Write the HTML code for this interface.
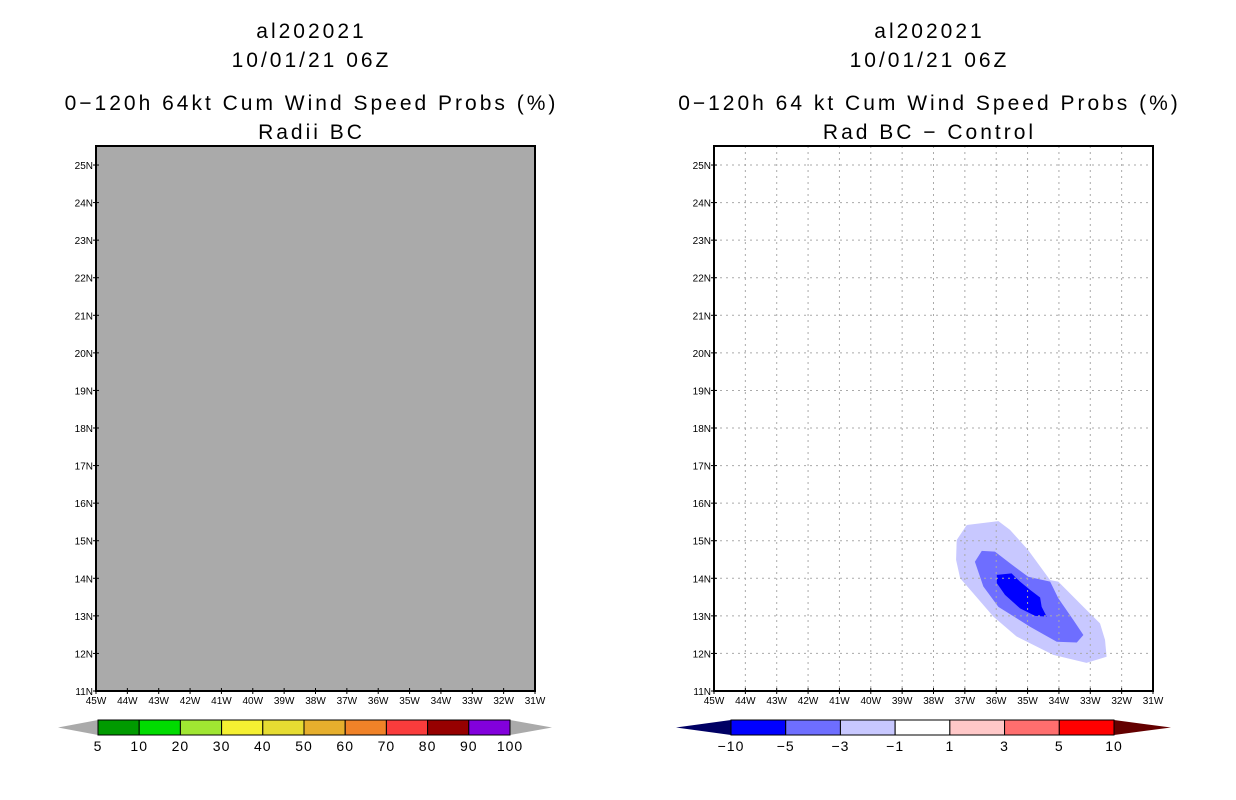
<!DOCTYPE html>
<html><head><meta charset="utf-8"><style>
body{margin:0;background:#fff;}
svg{display:block;font-family:"Liberation Sans",sans-serif;}
</style></head><body>
<svg id="fig" width="1236" height="800" viewBox="0 0 1236 800"></svg>
<script>
const lons=[45,44,43,42,41,40,39,38,37,36,35,34,33,32,31];
const lats=[11,12,13,14,15,16,17,18,19,20,21,22,23,24,25];
// contour polygons [lonW, latN]
const outerPoly=[[36.94,15.42],[35.93,15.52],[35.56,15.29],[34.98,14.75],[34.28,13.95],[34.02,13.91],[33.22,13.24],[32.69,12.80],[32.53,12.36],[32.48,11.91],[33.12,11.75],[34.18,11.96],[35.35,12.45],[36.09,12.98],[36.73,13.60],[37.15,14.00],[37.28,14.49],[37.26,15.02]];
const midPoly=[[36.46,14.73],[36.04,14.71],[35.56,14.40],[34.98,14.04],[34.28,13.91],[34.02,13.47],[33.54,12.89],[33.22,12.49],[33.43,12.29],[34.07,12.31],[34.92,12.71],[35.93,13.24],[36.41,13.78],[36.68,14.44]];
const innerPoly=[[35.98,14.09],[35.51,14.13],[35.24,13.91],[34.92,13.69],[34.60,13.49],[34.55,13.24],[34.39,12.98],[34.76,13.00],[35.24,13.20],[35.72,13.56],[35.98,13.87]];
const leftLabels=["5","10","20","30","40","50","60","70","80","90","100"];
const leftColors=["#009a00","#00dc00","#a0e632","#f5f032","#e6dc32","#e6af2d","#f08228","#fa3c3c","#960000","#8200dc"];
const rightLabels=["\u221210","\u22125","\u22123","\u22121","1","3","5","10"];
const rightColors=["#0000ff","#6e6eff","#c8c8ff","#ffffff","#ffc8c8","#ff6e6e","#ff0000"];

const NS="http://www.w3.org/2000/svg";
const svg=document.getElementById('fig');
function mk(t,a,p){const e=document.createElementNS(NS,t);for(const k in a)e.setAttribute(k,a[k]);(p||svg).appendChild(e);return e;}
const Y0=146,Y1=691,W=439;
function yS(lat){return 691-(lat-11)*37.57;}
function xS(x0,lonW){return x0+(45-lonW)*W/14;}

function panel(x0,cx,t1,t2,gray,id){
  const g=mk('g',{});
  
  
  [["al202021",38],["10/01/21 06Z",67],[t1,110],[t2,139]].forEach((s,i)=>{
    const t=mk('text',{x:cx+1.5,y:s[1],'text-anchor':'middle','font-size':'21','letter-spacing':'3'},g);
    t.textContent=s[0];
    
    
  });
  const bg=mk('rect',{x:x0,y:Y0,width:W,height:Y1-Y0,fill:gray?'#aaaaaa':'#fff'},g);
  
  
  if(!gray){
    [[outerPoly,'#c8c8ff','contour-minus1'],[midPoly,'#6e6eff','contour-minus3'],[innerPoly,'#0000ff','contour-minus5']].forEach(p=>{
      const pg=mk('polygon',{points:p[0].map(v=>xS(x0,v[0])+','+yS(v[1])).join(' '),fill:p[1]},g);
      
      
    });
    lons.slice(1,-1).forEach(l=>{mk('line',{x1:xS(x0,l),x2:xS(x0,l),y1:Y0,y2:Y1,stroke:'#aaa','stroke-dasharray':'2,4'},g);});
    lats.slice(1).forEach(l=>{mk('line',{x1:x0,x2:x0+W,y1:yS(l),y2:yS(l),stroke:'#aaa','stroke-dasharray':'2,4'},g);});
  }
  const fr=mk('rect',{x:x0,y:Y0,width:W,height:Y1-Y0,fill:'none',stroke:'#000','stroke-width':'2'},g);
  
  
  lats.forEach(l=>{
    const y=yS(l);
    mk('line',{x1:x0-3,x2:x0+3,y1:y,y2:y,stroke:'#000'},g);
    const t=mk('text',{x:x0-3,y:y+4,'text-anchor':'end','font-size':'10'},g);
    t.textContent=l+'N';
    
    
  });
  lons.forEach(l=>{
    const x=xS(x0,l);
    mk('line',{x1:x,x2:x,y1:Y1-3,y2:Y1+3,stroke:'#000'},g);
    const t=mk('text',{x:x,y:704,'text-anchor':'middle','font-size':'10'},g);
    t.textContent=l+'W';
    
    
  });
}
function colorbar(xa,xb,xc,xd,colors,labels,leftC,rightC,id){
  const g=mk('g',{});
  
  
  const y0=720,y1=735,ym=727.5,bw=(xc-xb)/colors.length;
  mk('polygon',{points:`${xa},${ym} ${xb},${y0} ${xb},${y1}`,fill:leftC},g);
  mk('polygon',{points:`${xd},${ym} ${xc},${y0} ${xc},${y1}`,fill:rightC},g);
  colors.forEach((c,i)=>{
    const r=mk('rect',{x:xb+i*bw,y:y0,width:bw,height:y1-y0,fill:c,stroke:'#000','stroke-width':'1'},g);
    
    
  });
  labels.forEach((s,i)=>{
    const t=mk('text',{x:xb+i*bw,y:751,'text-anchor':'middle','font-size':'14','letter-spacing':'1'},g);
    t.textContent=s;
    
    
  });
}
panel(96,310,"0\u2212120h 64kt Cum Wind Speed Probs (%)","Radii BC",true,'left');
panel(714,928,"0\u2212120h 64 kt Cum Wind Speed Probs (%)","Rad BC \u2212 Control",false,'right');
colorbar(58,98,510,552,leftColors,leftLabels,'#aaaaaa','#aaaaaa','left');
colorbar(676,731,1114,1171,rightColors,rightLabels,'#000064','#640000','right');
</script>
</body></html>
